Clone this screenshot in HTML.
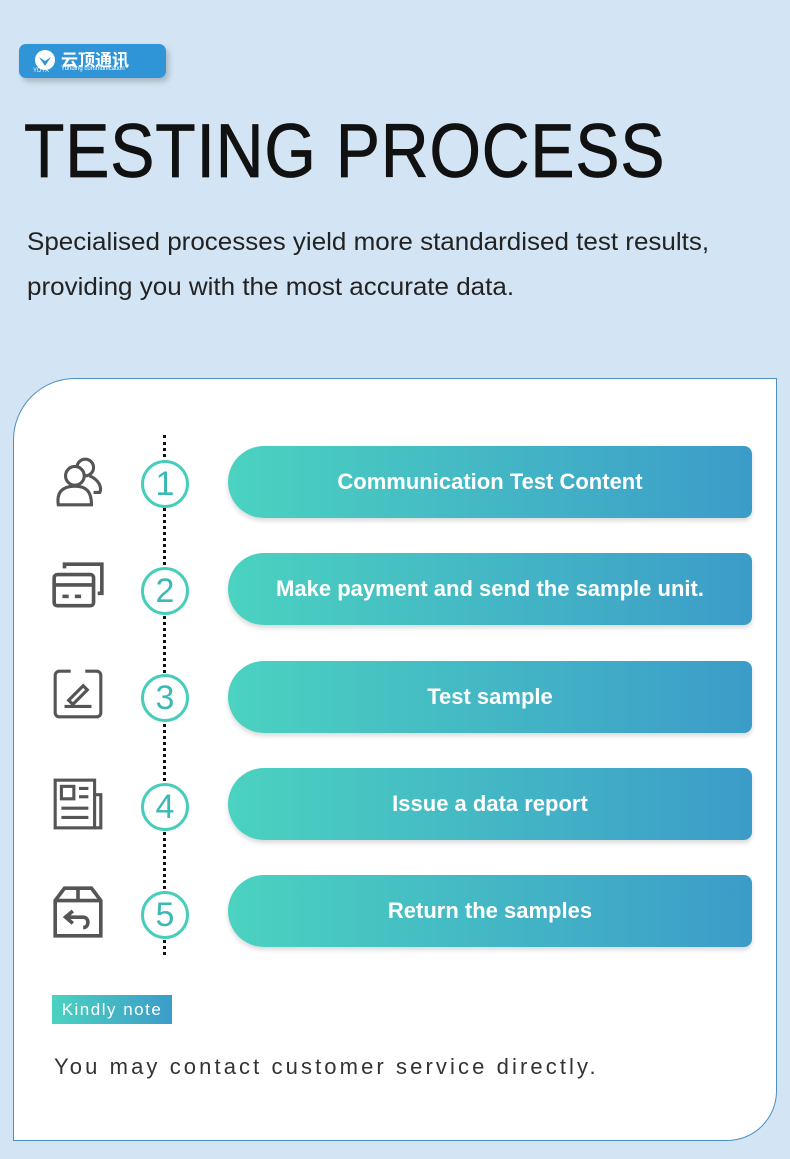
<!DOCTYPE html><html><head><meta charset="utf-8"><style>
body{margin:0;width:790px;height:1159px;background:#d3e5f4;position:relative;overflow:hidden;font-family:"Liberation Sans","Noto Sans CJK SC",sans-serif}
.logo{position:absolute;left:19px;top:44px;width:147px;height:34px;border-radius:7px;background:#2f95d6;box-shadow:3px 4px 6px rgba(0,0,0,.2);color:#fff}
h1{position:absolute;left:24px;top:108px;margin:0;font-size:76px;font-weight:400;letter-spacing:1px;color:#111;-webkit-text-stroke:0.8px #111;transform:scaleX(0.87);transform-origin:left top;white-space:nowrap}
.sub{position:absolute;left:27px;top:220px;font-size:25px;line-height:45px;color:#222;transform:scaleX(1.04);transform-origin:left top;white-space:nowrap}
.card{position:absolute;left:13px;top:378px;width:764px;height:763px;background:#fff;border:1.5px solid #4a90c0;border-radius:62px 0 50px 0;box-sizing:border-box}
.line{position:absolute;left:163px;top:435px;height:520px;border-left:3px dotted #111}
.pill{position:absolute;left:228px;width:524px;height:72px;border-radius:36px 8px 8px 36px;background:linear-gradient(90deg,#4bd2c0,#3c9cc9);color:#fff;font-size:22px;font-weight:bold;display:flex;align-items:center;justify-content:center;box-shadow:0 3px 5px rgba(0,0,0,.15)}
.num{position:absolute;left:141px;width:42px;height:42px;border:3px solid #48cdbb;border-radius:50%;background:#fff;color:#3cb8b6;font-size:34px;line-height:42px;text-align:center}
.ic{position:absolute;left:50px;width:56px;height:56px}
.note{position:absolute;left:52px;top:995px;width:120px;height:29px;background:linear-gradient(90deg,#4bd2c0,#3c9cc9);color:#fff;font-size:17px;line-height:29px;text-align:center;letter-spacing:1.5px}
.msg{position:absolute;left:54px;top:1054px;font-size:22px;letter-spacing:3.1px;color:#333}
</style></head><body>
<div class="logo"><svg style="position:absolute;left:15px;top:5px" width="22" height="22"><circle cx="11" cy="11" r="10" fill="#fff"/><path d="M5 8 L11 17 L17 8 L11 12Z" fill="#2f95d6"/></svg><span style="position:absolute;left:42px;top:2px;font-size:17px;font-weight:bold">云顶通讯</span><span style="position:absolute;left:42px;top:22px;font-size:6px">Yunding communication</span><span style="position:absolute;left:14px;top:24px;font-size:6px">YDTX</span></div>
<h1>TESTING PROCESS</h1>
<div class="sub">Specialised processes yield more standardised test results,<br>providing you with the most accurate data.</div>
<div class="card"></div>
<div class="line"></div>
<svg class="ic" style="top:453px" viewBox="0 0 54 54" fill="none" stroke="#555" stroke-width="3"><circle cx="34" cy="14" r="8"/><path d="M38 22 C48 26 50 34 48 38 L42 38"/><circle cx="24" cy="22" r="9" fill="#fff"/><path d="M8 50 C6 36 14 32 24 32 C34 32 40 36 40 50Z" fill="#fff"/></svg>
<div class="num" style="top:460px">1</div>
<div class="pill" style="top:446px">Communication Test Content</div>
<svg class="ic" style="top:558px" viewBox="0 0 54 54" fill="none" stroke="#555" stroke-width="3.5"><path d="M14 10 V6 H50 V34 H46"/><rect x="4" y="16" width="38" height="30" rx="3"/><line x1="4" y1="26" x2="42" y2="26"/><line x1="12" y1="37" x2="18" y2="37"/><line x1="24" y1="37" x2="30" y2="37"/></svg>
<div class="num" style="top:567px">2</div>
<div class="pill" style="top:553px">Make payment and send the sample unit.</div>
<svg class="ic" style="top:665px" viewBox="0 0 54 54" fill="none" stroke="#555" stroke-width="3"><rect x="5" y="6" width="44" height="44" rx="4"/><line x1="20" y1="6" x2="34" y2="6" stroke="#fff" stroke-width="4"/><path d="M18 34 L32 20 L36 24 L22 38Z"/><line x1="14" y1="40" x2="40" y2="40"/></svg>
<div class="num" style="top:674px">3</div>
<div class="pill" style="top:661px">Test sample</div>
<svg class="ic" style="top:776px" viewBox="0 0 54 54" fill="none" stroke="#555" stroke-width="3"><rect x="5" y="4" width="38" height="46"/><path d="M43 18 H49 V50 H43"/><rect x="11" y="10" width="12" height="12"/><line x1="28" y1="12" x2="37" y2="12"/><line x1="28" y1="20" x2="37" y2="20"/><line x1="11" y1="31" x2="37" y2="31"/><line x1="11" y1="40" x2="37" y2="40"/></svg>
<div class="num" style="top:783px">4</div>
<div class="pill" style="top:768px">Issue a data report</div>
<svg class="ic" style="top:884px" viewBox="0 0 54 54" fill="none" stroke="#555" stroke-width="3.5"><path d="M5 16 L14 4 H40 L49 16 V50 H5Z"/><line x1="5" y1="16" x2="49" y2="16"/><line x1="27" y1="4" x2="27" y2="16"/><path d="M22 26 L15 32 L22 38"/><path d="M15 32 H32 C38 32 38 42 32 42"/></svg>
<div class="num" style="top:891px">5</div>
<div class="pill" style="top:875px">Return the samples</div>
<div class="note">Kindly note</div>
<div class="msg">You may contact customer service directly.</div>
</body></html>
